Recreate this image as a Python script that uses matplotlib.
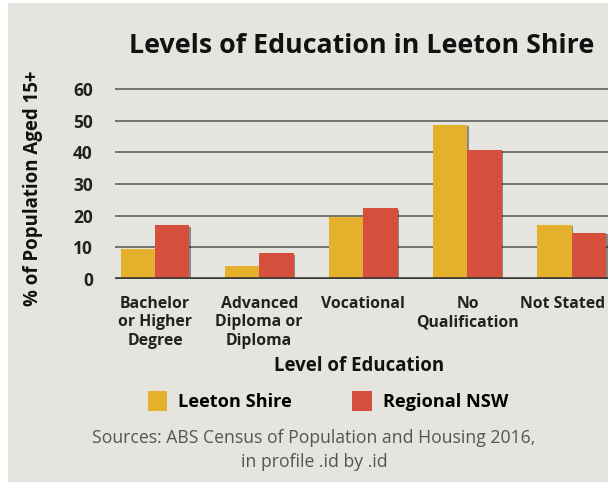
import matplotlib
matplotlib.use("Agg")
import matplotlib.pyplot as plt
import matplotlib.patheffects as pe
import matplotlib.transforms as mtransforms
from matplotlib.patches import Patch, Rectangle
import numpy as np

CATEGORIES = [
	"Bachelor\nor Higher\nDegree",
	"Advanced\nDiploma or\nDiploma",
	"Vocational",
	"No\nQualification",
	"Not Stated",
]
LEETON = [9.5, 4.1, 19.5, 48.7, 17.2]
REGIONAL = [17.0, 8.1, 22.4, 40.8, 14.6]
Y_TICKS = [0, 10, 20, 30, 40, 50, 60]

BG = "#e5e4de"
YELLOW = "#e5b02c"
RED = "#d44f3c"

plt.rcParams["font.family"] = ["Open Sans", "DejaVu Sans"]

fig = plt.figure(figsize=(6.08, 4.82), dpi=100)
fig.patch.set_facecolor("white")
fig.patches.append(Rectangle(
	(8 / 608, 0), 1, 1 - 3 / 482,
	transform=fig.transFigure, facecolor=BG, edgecolor="none", zorder=-10,
))

ax = fig.add_axes([115 / 608, 1 - 279 / 482, 493 / 608, 196.3 / 482])
ax.set_facecolor("none")

x = np.arange(len(CATEGORIES))
w = 0.33
shadow = [pe.SimplePatchShadow(offset=(1.2, -1.2), shadow_rgbFace="black", alpha=0.4), pe.Normal()]
ax.bar(x - w / 2, LEETON, w, color=YELLOW, zorder=3, path_effects=shadow)
ax.bar(x + w / 2, REGIONAL, w, color=RED, zorder=3, path_effects=shadow)

ax.set_xlim(-0.385, 4.35)
ax.set_ylim(0, 62)
ax.set_yticks(Y_TICKS)
ax.set_yticklabels([str(t) for t in Y_TICKS], fontsize=12.5, fontweight="bold", color="#222222")
ax.set_xticks(x)
ax.set_xticklabels(CATEGORIES, fontsize=11.3, fontweight="bold", color="#222222", linespacing=1.22)
ax.tick_params(axis="y", length=0, pad=16)
ax.tick_params(axis="x", length=0, pad=12)

# the last label sits a little left of its group so it fits in the frame
last = ax.get_xticklabels()[-1]
last.set_transform(last.get_transform() + mtransforms.ScaledTranslation(-9 / 100, 0, fig.dpi_scale_trans))

for t in Y_TICKS[1:]:
	ax.axhline(t, color="#555555", linewidth=1.1, zorder=1)
ax.axhline(0, color="#3a3a3a", linewidth=2.6, zorder=4)
for s in ax.spines.values():
	s.set_visible(False)

fig.text(362 / 608, 1 - 46 / 482, "Levels of Education in Leeton Shire",
	ha="center", va="center", fontsize=19.3, fontweight="bold", color="#111111")
fig.text(33 / 608, 1 - 188 / 482, "% of Population Aged 15+", rotation=90,
	ha="center", va="center", fontsize=13.4, fontweight="bold", color="#111111")
fig.text(359 / 608, 1 - 366 / 482, "Level of Education",
	ha="center", va="center", fontsize=13.4, fontweight="bold", color="#111111")

handles = [Patch(facecolor=YELLOW, label="Leeton Shire"), Patch(facecolor=RED, label="Regional NSW")]
fig.legend(handles=handles, loc="center", bbox_to_anchor=(328 / 608, 1 - 401 / 482),
	ncol=2, frameon=False, handlelength=1.08, handleheight=1.28, handletextpad=0.6,
	columnspacing=3.3, prop={"family": ["Open Sans", "DejaVu Sans"], "weight": "bold", "size": 13.1})

fig.text(314 / 608, 1 - 450 / 482,
	"Sources: ABS Census of Population and Housing 2016,\nin profile .id by .id",
	ha="center", va="center", fontsize=12.7, color="#555555", linespacing=1.45)

fig.savefig("out.png", dpi=100, facecolor=fig.get_facecolor())
